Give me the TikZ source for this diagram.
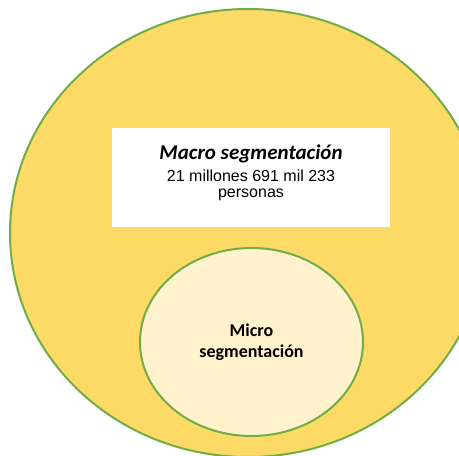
\documentclass[tikz,border=0pt]{standalone}
\usepackage{fontspec}
\setmainfont{Carlito}
\newfontfamily\arialfont{Liberation Sans}
\usetikzlibrary{shapes.geometric,positioning}
\definecolor{macrofill}{HTML}{FDD966}
\definecolor{microfill}{HTML}{FFF2CC}
\definecolor{borde}{HTML}{70AD47}
\tikzstyle{conjunto}=[ellipse,draw=borde,line width=2pt,inner sep=0pt]
\tikzstyle{caja}=[rectangle,fill=white,inner sep=0pt]

\begin{document}
\begin{tikzpicture}[
    x=1pt,
    y=-1pt
    ]
    \useasboundingbox (0,0) rectangle (459,456);
    \clip (0,0) rectangle (459,456);
    \node[conjunto,fill=macrofill,minimum width=476pt,minimum height=448pt](macro) at (248,233){};
    \node[caja,minimum width=278pt,minimum height=99pt](cajamacro) at (251,177.5){};
    \node[align=center,inner sep=0pt,font=\arialfont\fontsize{16}{16.5}\selectfont](textomacro) at (251,173){{\rmfamily\fontsize{21}{22}\selectfont\bfseries\itshape Macro segmentación}\\[5pt]
        21 millones 691 mil 233\\
        personas};
    \node[conjunto,fill=microfill,minimum width=223pt,minimum height=188pt,align=center,font=\bfseries\fontsize{18}{21}\selectfont](micro) at (251.5,342){Micro\\segmentación};
\end{tikzpicture}
\end{document}
